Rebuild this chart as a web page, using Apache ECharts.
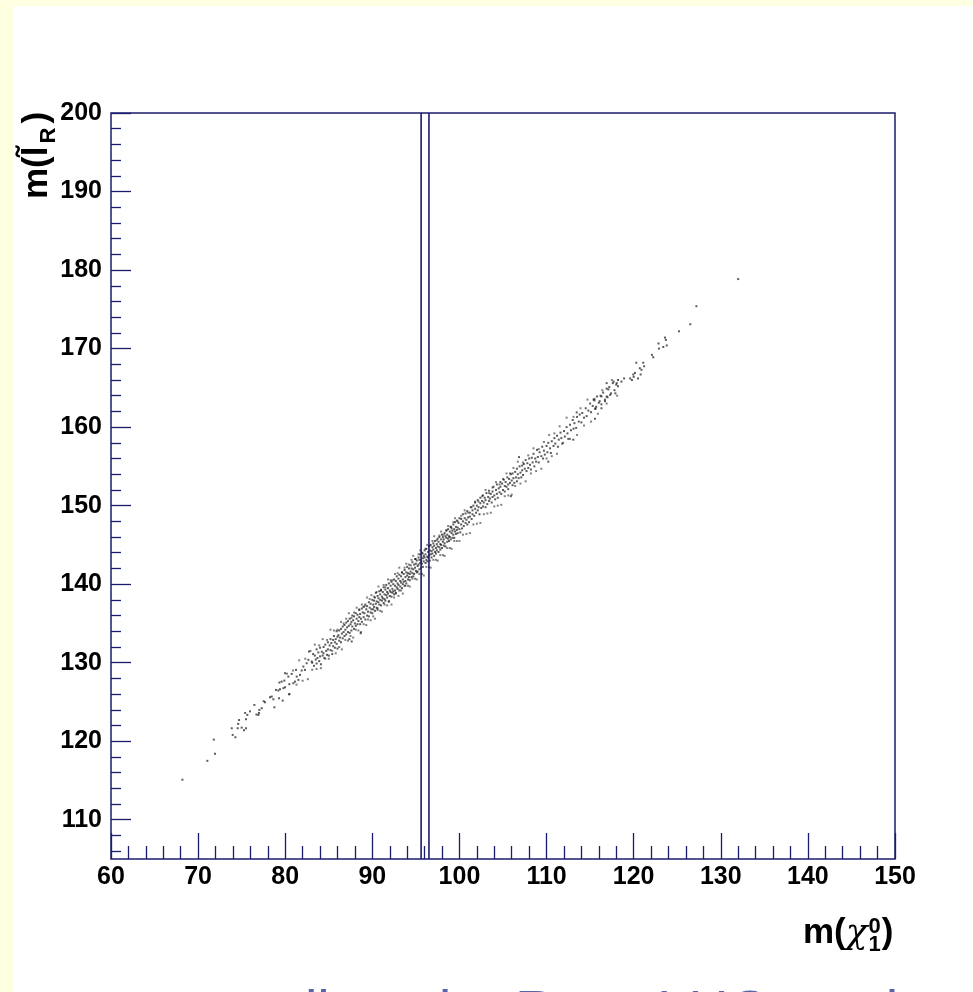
<!DOCTYPE html>
<html><head><meta charset="utf-8">
<script src="https://cdn.jsdelivr.net/npm/echarts@6/dist/echarts.min.js"></script>
<style>
html,body{margin:0;padding:0;background:#ffffe2;width:973px;height:992px;overflow:hidden;}
#chart{position:absolute;left:13px;top:6px;width:960px;height:986px;background:#ffffff;}
</style></head><body><div id="chart"></div>
<script>
// ---- data ----
const xTickValues = [60,70,80,90,100,110,120,130,140,150];
const yTickValues = [110,120,130,140,150,160,170,180,190,200];
const yMinorTickValues = [106,108,112,114,116,118,122,124,126,128,132,134,136,138,142,144,146,148,152,154,156,158,162,164,166,168,172,174,176,178,182,184,186,188,192,194,196,198];
const xRange = [60,150];
const yRange = [105,200];
const cutValues = [95.6, 96.5];   // vertical cut lines on m(chi)
// core of the event band: [m(chi_1^0), m(l_R)]
const corePoints = [
[68.2,115.1],[71.06,117.5],[71.94,118.4],[71.8,120.2],[73.86,121.65],[73.97,120.8],[74.28,120.5],[74.54,121.65],[75.0,121.73],[75.27,121.4],[75.5,121.65],[74.6,122.2],[74.7,122.7],[75.5,122.8],[75.65,123.35],[75.96,123.8],[75.4,123.6],[76.46,124.62],[76.7,123.4],[76.92,123.35],[77.03,123.98],[76.99,123.6],[77.3,124.2],[77.53,125.09],[77.68,124.96],[78.25,125.6],[78.45,125.68],[78.75,124.32],[78.64,125.34],[79.29,125.47],[79.71,125.17],[80.44,125.98],[78.94,126.53],[79.21,126.45],[79.4,126.62],[79.79,126.75],[79.98,126.87],[79.33,127.47],[79.59,127.59],[79.9,127.72],[80.47,127.26],[80.93,127.38],[81.13,127.59],[79.98,128.66],[80.36,128.23],[80.74,128.57],[81.32,128.23],[81.51,127.81],[81.7,128.44],[81.24,129.08],[81.89,129.0],[82.27,129.08],[82.08,129.51],[82.46,129.93],[82.66,130.36],[83.04,130.14],[82.73,131.42],
[83.1,130.0],[83.2,131.1],[83.3,129.6],[83.4,130.9],[83.5,130.4],[83.6,131.7],[83.6,129.9],[83.7,130.6],[83.8,131.3],[83.9,130.2],[84.0,131.9],[84.0,130.8],[84.1,129.8],[84.2,131.4],[84.3,130.9],[84.4,132.0],[84.4,131.2],[84.5,130.6],[84.6,132.3],[84.7,131.5],[84.8,131.0],[84.9,132.6],[84.9,131.7],[85.0,130.9],[85.1,132.2],[85.2,133.0],[85.2,131.6],[85.3,132.5],[85.4,131.1],[85.5,132.9],[85.5,132.1],[85.6,133.4],[85.7,132.6],[85.7,131.9],[85.8,133.0],[85.9,134.0],[85.9,132.4],[86.0,133.3],[86.0,131.8],
[86.1,133.5],[86.2,132.8],[86.2,134.1],[86.3,133.2],[86.4,134.3],[86.4,132.6],[86.5,133.7],[86.6,134.6],[86.6,133.1],[86.7,133.9],[86.8,134.8],[86.8,133.4],[86.9,134.2],[87.0,135.1],[87.0,133.6],[87.1,134.5],[87.2,133.9],[87.2,135.3],[87.3,134.7],[87.4,133.8],[87.4,135.6],[87.5,134.9],[87.6,134.1],[87.6,135.2],[87.7,136.0],[87.7,134.6],[87.8,135.4],[87.9,134.3],[87.9,135.9],[88.0,135.0],[88.1,136.3],[88.1,134.7],[88.2,135.6],[88.3,134.9],[88.3,136.1],[88.4,135.3],[88.5,136.7],[88.5,135.8],[88.6,134.9],[88.6,136.2],[88.7,135.6],[88.8,136.9],[88.8,135.2],[88.9,136.4],[89.0,135.8],[89.0,137.1],[89.1,136.3],[89.2,135.5],[89.2,137.4],[89.3,136.8],[89.4,136.0],[89.4,137.2],[89.5,136.5],[89.6,137.7],[89.6,135.9],[89.7,137.0],[89.8,136.4],[89.8,137.5],[89.9,136.8],[90.0,138.0],[90.0,136.3],[90.1,137.4],
[87.63,132.7],[87.36,133.0],[88.66,133.75],
[90.1,136.8],[90.2,137.9],[90.2,137.1],[90.3,136.6],[90.3,138.3],[90.4,137.5],[90.4,138.9],[90.5,137.0],[90.5,137.8],[90.6,138.5],[90.6,136.9],[90.7,137.7],[90.7,138.2],[90.8,139.1],[90.8,137.4],[90.9,138.0],[90.9,138.7],[91.0,137.3],[91.0,139.2],[91.1,138.4],[91.1,137.9],[91.2,139.0],[91.2,138.2],[91.3,137.6],[91.3,139.6],[91.4,138.7],[91.4,138.1],[91.5,139.3],[91.5,137.9],[91.6,138.6],[91.6,139.9],[91.7,139.0],[91.7,138.3],[91.8,139.5],[91.8,138.8],[91.9,137.8],[91.9,140.1],[92.0,139.2],[92.0,138.5],[92.1,139.8],[92.1,139.0],[92.2,138.4],[92.2,140.3],[92.3,139.4],[92.3,138.9],[92.4,140.0],[92.4,139.1],[92.5,138.7],[92.5,140.6],[92.6,139.8],[92.6,139.2],[92.7,140.4],[92.7,138.9],[92.8,139.6],[92.8,141.0],[92.9,140.1],[92.9,139.4],[93.0,140.7],[93.0,139.9],[93.1,139.2],[93.1,141.2],[93.2,140.4],[93.2,139.7],[93.3,141.0],[93.3,140.2],[93.4,139.5],[93.4,141.5],[93.5,140.6],[93.5,140.0],[93.6,141.3],[93.6,140.3],[93.7,139.8],[93.7,141.8],[93.8,140.9],[93.8,140.4],[93.9,141.5],[93.9,140.1],[94.0,141.1],[94.0,142.2],[94.1,140.6],[94.1,141.4],[94.2,140.9],[94.2,142.0],[94.3,141.3],[94.3,140.5],[94.4,142.4],[94.4,141.6],[94.5,140.9],[94.5,142.0],[94.6,141.4],[94.6,142.8],[94.7,141.0],[94.7,141.9],[94.8,142.5],[94.8,141.3],[94.9,142.1],[94.9,143.2],[95.0,141.7],[95.0,142.6],[95.1,141.5],[95.1,143.0],[95.2,142.3],[95.2,141.6],[95.3,143.4],[95.3,142.5],[95.4,141.9],[95.4,143.1],[95.5,142.7],[95.5,143.8],[95.6,142.1],[95.6,143.0],[95.7,142.6],[95.7,144.0],[95.8,143.3],[95.8,142.2],[95.9,143.6],[95.9,142.9],[96.0,143.4],[96.0,144.3],[96.1,142.7],[96.1,143.8],[96.2,143.1],[96.2,144.5],[96.3,143.5],[96.3,142.9],[96.4,144.1],[96.4,143.4],[96.5,144.8],[96.5,143.7],[96.6,143.0],[96.6,144.3],[96.7,143.8],[96.7,145.0],[96.8,144.2],[96.8,143.4],[96.9,144.7],[96.9,143.9],[97.0,145.2],[97.0,144.4],[97.1,143.6],[97.1,144.9],[97.2,144.1],[97.2,145.5],[97.3,144.6],[97.3,143.9],[97.4,145.1],[97.4,144.3],[97.5,145.8],[97.5,144.8],[97.6,144.1],[97.6,145.4],[97.7,144.7],[97.7,146.0],[97.8,145.1],[97.8,144.4],[97.9,145.7],[97.9,145.0],[98.0,146.3],[98.0,144.6],[98.1,145.4],[98.1,146.0],[98.2,144.9],[98.2,145.7],[98.3,146.5],[98.3,145.2],[98.4,146.1],[98.4,144.8],[98.5,145.9],[98.5,146.8],[98.6,145.4],[98.6,146.3],[98.7,145.8],[98.7,147.0],[98.8,146.1],[98.8,145.5],[98.9,146.7],[98.9,146.0],[99.0,147.3],[99.0,145.7],[99.1,146.5],[99.1,147.1],[99.2,145.9],[99.2,146.8],[99.3,147.6],[99.3,146.3],[99.4,147.0],[99.4,145.9],[99.5,146.7],[99.5,147.9],[99.6,146.4],[99.6,147.3],[99.7,146.9],[99.7,148.1],[99.8,147.2],[99.8,146.5],[99.9,147.8],[100.0,147.0],[100.0,148.4],
[100.1,146.6],[100.2,147.6],[100.2,148.3],[100.3,147.1],[100.4,148.0],[100.4,148.9],[100.5,147.4],[100.6,148.4],[100.7,147.8],[100.7,149.0],[100.8,148.2],[100.9,147.6],[100.9,149.3],[101.0,148.5],[101.1,147.9],[101.2,149.1],[101.2,148.6],[101.3,149.8],[101.4,148.3],[101.5,149.4],[101.5,148.9],[101.6,150.0],[101.7,148.7],[101.8,149.6],[101.8,150.4],[101.9,149.1],[102.0,150.0],[102.1,149.4],[102.1,150.7],[102.2,149.8],[102.3,148.9],[102.4,150.3],[102.4,151.0],[102.5,149.7],[102.6,150.6],[102.7,149.9],[102.7,151.3],[102.8,150.4],[102.9,151.0],[103.0,149.8],[103.0,150.7],[103.1,151.6],[103.2,150.2],[103.3,151.1],[103.4,150.6],[103.4,151.9],[103.5,150.9],[103.6,151.5],[103.7,150.4],[103.8,151.8],[103.8,151.1],[103.9,152.4],[104.0,151.3],[104.1,150.8],[104.2,152.0],[104.3,151.5],[104.3,152.7],[104.4,151.0],[104.5,152.2],[104.6,151.7],[104.7,153.0],[104.7,152.4],[104.8,151.5],[104.9,152.8],[105.0,152.0],[105.1,153.3],[105.2,152.5],[105.2,151.8],[105.3,153.0],[105.4,152.4],[105.5,153.6],[105.6,152.7],[105.6,152.1],[105.7,153.4],[105.8,152.9],[105.9,154.0],[106.0,153.2],[106.1,152.6],[106.1,154.1],[106.2,153.5],[106.3,152.9],[106.4,154.3],[106.5,153.6],[106.6,154.7],[106.6,153.1],[106.7,154.0],[106.8,153.5],[106.9,155.0],[107.0,154.2],[107.1,153.6],[107.2,155.1],[107.2,154.5],[107.3,153.9],[107.4,155.3],[107.5,154.7],[107.6,155.8],[107.7,154.4],[107.8,155.4],[107.9,154.8],[108.0,156.0],[108.1,155.2],[108.2,154.6],[108.3,156.1],[108.4,155.5],[108.5,156.6],[108.6,155.0],[108.7,156.0],[108.8,155.6],[108.9,157.1],[109.0,156.2],[109.1,155.5],[109.2,156.8],[109.4,156.3],[109.5,157.5],[109.6,156.0],[109.7,157.0],[109.8,156.5],[110.0,157.6],
[105.9,151.2],[106.84,156.18],[110.2,155.6],[113.07,158.4],[113.46,161.87],[115.56,161.06],
[110.1,156.8],[110.2,158.0],[110.4,157.3],[110.5,156.7],[110.6,158.2],[110.8,157.6],[110.9,158.6],[111.0,157.9],[111.2,158.9],[111.3,157.5],[111.4,158.4],[111.6,159.3],[111.7,158.6],[111.8,157.9],[112.0,159.5],[112.1,158.8],[112.3,160.0],[112.4,159.2],[112.5,158.5],[112.7,160.3],[112.8,159.6],[113.0,160.9],[113.1,159.8],[113.2,160.5],[113.4,159.9],[113.5,161.3],[113.7,160.7],[113.8,161.6],[114.0,160.6],[114.1,161.8],[114.3,161.2],[114.5,162.4],[114.6,161.4],[114.8,162.1],[115.0,163.0],[115.1,161.9],[115.3,162.7],[115.5,163.4],[115.6,162.3],[115.8,163.9],[116.0,163.1],[116.2,164.0],[116.3,162.9],[116.5,164.4],[116.7,163.5],[116.9,164.9],[117.0,163.8],[117.2,165.1],[117.4,164.3],[117.6,165.6],[117.8,164.7],[118.0,165.4],[118.2,166.0],
[116.9,165.6],[118.05,165.6],[118.6,165.8],[117.7,165.8],[118.2,165.2],[117.1,164.8],[117.3,164.1],[117.9,164.3],[116.9,163.9],[116.3,163.9],[116.7,163.3],[116.1,163.3],[115.7,162.6],[115.6,162.4],[116.3,162.4],[115.4,163.5],
[118.9,166.2],[119.6,166.2],[119.8,166.0],[119.96,166.7],[120.0,166.4],[120.15,166.9],[120.5,166.2],[120.8,166.7],[120.9,167.3],[121.2,167.75],[120.3,168.2],[121.1,168.2],[120.7,167.5],[122.1,169.2],[122.25,168.9],[122.9,170.0],[123.4,170.2],[123.8,170.4],[122.85,170.65],[123.7,171.1],[123.6,171.4],[125.2,172.2],[126.5,173.1],[127.2,175.4],[132.0,178.85]
];
// outer halo of the band
const haloPoints = [
[80.2,128.6],[80.5,126.0],[80.9,129.0],[81.3,127.2],[81.6,130.3],[82.0,127.7],[82.3,130.5],[82.6,127.9],[82.9,131.5],[83.1,129.1],[83.4,132.3],[83.6,129.2],[83.9,132.2],[84.1,129.3],[84.3,133.0],[84.6,130.5],[84.8,132.9],[85.0,130.5],[85.2,134.2],[85.4,131.5],[85.6,134.1],[85.8,131.2],[86.0,134.2],[86.2,132.0],[86.4,135.2],[86.5,131.7],[86.7,135.0],[86.9,132.9],[87.0,135.6],[87.2,132.8],[87.3,136.3],[87.5,133.4],[87.6,135.7],[87.8,133.2],[87.9,136.4],[88.1,134.2],[88.2,137.0],[88.4,134.1],[88.5,136.8],[88.7,133.9],[88.8,137.4],[89.0,134.9],[89.1,137.2],[89.3,134.8],[89.4,138.3],[89.5,135.5],[89.7,138.1],[89.8,135.4],[89.9,138.6],
[90.1,135.9],[90.2,138.4],[90.3,135.6],[90.5,139.0],[90.6,136.7],[90.7,139.7],[90.9,136.6],[91.0,139.3],[91.1,136.5],[91.3,139.9],[91.4,137.4],[91.5,139.6],[91.7,137.3],[91.8,140.6],[91.9,137.8],[92.1,140.5],[92.2,137.4],[92.3,140.5],[92.5,138.3],[92.6,141.3],[92.7,138.8],[92.9,141.4],[93.0,138.5],[93.1,142.1],[93.3,139.2],[93.4,141.5],[93.5,138.8],[93.7,142.1],[93.8,139.8],[93.9,142.6],[94.1,139.8],[94.2,142.5],[94.3,139.7],[94.5,143.1],[94.6,140.7],[94.7,143.6],[94.9,140.7],[95.0,143.2],[95.1,140.6],[95.3,143.8],[95.4,141.3],[95.5,144.3],[95.7,141.3],[95.8,143.9],[95.9,141.1],
[96.1,144.5],[96.2,142.2],[96.3,145.0],[96.5,142.2],[96.6,144.9],[96.7,142.1],[96.9,145.5],[97.0,143.1],[97.1,146.1],[97.3,143.1],[97.4,145.6],[97.5,143.0],[97.7,146.2],[97.8,143.7],[97.9,146.7],[98.1,143.7],[98.2,146.3],[98.3,143.6],[98.5,146.9],[98.6,144.6],[98.7,147.4],[98.9,144.6],[99.0,147.3],[99.1,144.5],[99.3,147.9],[99.4,145.5],[99.5,148.4],[99.7,145.5],[99.8,148.0],[100.0,145.5],
[100.2,148.7],[100.4,146.3],[100.6,149.4],[100.8,146.4],[101.0,149.1],[101.2,146.5],[101.4,149.8],[101.6,147.6],[101.8,150.5],[102.0,147.7],[102.2,150.5],[102.4,147.8],[102.6,151.2],[102.8,148.9],[103.0,152.0],[103.2,149.0],[103.4,151.6],[103.6,149.1],[103.8,152.3],[104.0,149.9],[104.2,153.0],[104.4,150.0],[104.6,152.7],[104.8,150.1],[105.0,153.4],[105.2,151.2],[105.4,154.1],[105.6,151.3],[105.8,154.1],[106.0,151.4],[106.2,154.8],[106.4,152.5],[106.7,155.6],[107.0,152.8],[107.3,155.5],[107.6,153.1],[107.9,156.4],[108.2,154.1],[108.5,157.3],[108.8,154.4],[109.1,157.2],[109.4,154.7],[109.7,158.1],
[110.0,156.0],[110.3,159.0],[110.6,156.3],[110.9,159.2],[111.2,156.6],[111.5,160.1],[111.9,158.0],[112.3,161.2],[112.7,158.5],[113.1,161.3],[113.5,159.0],[113.9,162.4],[114.3,160.2],[114.7,163.5],[115.1,160.7],[115.5,163.6],[115.9,161.7],[116.4,164.7],[116.9,163.0],[117.5,166.0],[118.1,164.0]
];
// ---- style ----
const navy = '#1c1c6e';
const FF = '"Liberation Sans", Arial, Helvetica, sans-serif';
const chart = echarts.init(document.getElementById('chart'), null, {renderer:'canvas'});

const mctx = document.createElement('canvas').getContext('2d');
function tw(t, font){ mctx.font = font; return mctx.measureText(t).width; }

const fMain = 'bold 35px ' + FF;
const fSmall = 'bold 22px ' + FF;
const fChi = 'italic 36px "DejaVu Serif", "Liberation Serif", serif';

// x title (chart coords)
const xt0 = 790, xtBase = 939;
const wM = tw('m(', fMain), wChi = tw('χ', fChi), w0 = tw('0', fSmall);
const xTitle = [
  {type:'text', x:xt0, y:xtBase-0.3465*35, style:{text:'m(', font:fMain, fill:'#000', verticalAlign:'middle'}},
  {type:'text', x:xt0+wM, y:xtBase+1-0.35*36, style:{text:'χ', font:fChi, fill:'#000', verticalAlign:'middle'}},
  {type:'text', x:xt0+wM+wChi+1, y:xtBase-10-0.3465*22, style:{text:'0', font:fSmall, fill:'#000', verticalAlign:'middle'}},
  {type:'text', x:xt0+wM+wChi+1, y:xtBase+8-0.3465*22, style:{text:'1', font:fSmall, fill:'#000', verticalAlign:'middle'}},
  {type:'text', x:xt0+wM+wChi+w0+2, y:xtBase-0.3465*35, style:{text:')', font:fMain, fill:'#000', verticalAlign:'middle'}}
];
// y title (rotated group)
const wA = tw('m(l\u0303', fMain), wR = tw('R', fSmall);
const yTitle = {
  type:'group', x:36, y:193, rotation:Math.PI/2,
  children:[
    {type:'text', x:0, y:-0.3465*35, style:{text:'m(l\u0303', font:fMain, fill:'#000', verticalAlign:'middle'}},
    {type:'text', x:wA+3, y:8-0.3465*22, style:{text:'R', font:fSmall, fill:'#000', verticalAlign:'middle'}},
    {type:'text', x:wA+wR+7, y:-0.3465*35, style:{text:')', font:fMain, fill:'#000', verticalAlign:'middle'}}
  ]
};
// footer (mostly cut off by the page edge)
const fFoot = '56px ' + FF;
const footY = 1008;
const footer = [
  {type:'text', x:488, y:footY, style:{text:'talk at the', font:fFoot, fill:'#5a64a8', align:'right', verticalAlign:'middle'}},
  {type:'text', x:502, y:footY, style:{text:'Rome', font:fFoot, fill:'#5a64a8', align:'left', verticalAlign:'middle'}},
  {type:'text', x:644, y:footY, style:{text:'LHC', font:fFoot, fill:'#5a64a8', align:'left', verticalAlign:'middle'}},
  {type:'text', x:770, y:footY, style:{text:'week', font:fFoot, fill:'#5a64a8', align:'left', verticalAlign:'middle'}}
];

const tickStyle = {color:navy, width:1.3};
const labelStyle = {color:'#000', fontFamily:FF, fontWeight:'bold', fontSize:25};

const series = [
  {type:'scatter', data:corePoints, symbol:'rect', symbolSize:2, itemStyle:{color:'rgba(0,0,0,0.8)'}, silent:true, z:3},
  {type:'scatter', data:haloPoints, symbol:'rect', symbolSize:2, itemStyle:{color:'rgba(0,0,0,0.62)'}, silent:true, z:3}
];
cutValues.forEach(c => {
  series.push({type:'line', data:[[c, yRange[0]],[c, yRange[1]]], symbol:'none', silent:true,
    lineStyle:{color:navy, width:1.6}, z:4});
});

chart.setOption({
  animation:false,
  backgroundColor:'#ffffff',
  grid:{left:98, top:107, width:784, height:746, show:true, borderColor:navy, borderWidth:1.5, backgroundColor:'#ffffff', containLabel:false},
  xAxis:{type:'value', min:xRange[0], max:xRange[1], interval:10,
    axisLine:{show:false}, splitLine:{show:false},
    axisTick:{show:true, inside:true, length:26, lineStyle:tickStyle},
    minorTick:{show:true, splitNumber:5, length:13, lineStyle:tickStyle},
    axisLabel:Object.assign({margin:6, showMinLabel:true, showMaxLabel:true}, labelStyle)},
  yAxis:[
    {type:'value', min:yRange[0], max:yRange[1], position:'left',
      axisLine:{show:false}, splitLine:{show:false},
      axisTick:{show:true, inside:true, length:20, lineStyle:tickStyle, customValues:yTickValues},
      axisLabel:Object.assign({margin:9, customValues:yTickValues}, labelStyle)},
    {type:'value', min:yRange[0], max:yRange[1], position:'left',
      axisLine:{show:false}, splitLine:{show:false},
      axisTick:{show:true, inside:true, length:10, lineStyle:tickStyle, customValues:yMinorTickValues},
      axisLabel:{show:false}}
  ],
  series:series,
  graphic:[].concat(xTitle, [yTitle], footer)
});
</script></body></html>
